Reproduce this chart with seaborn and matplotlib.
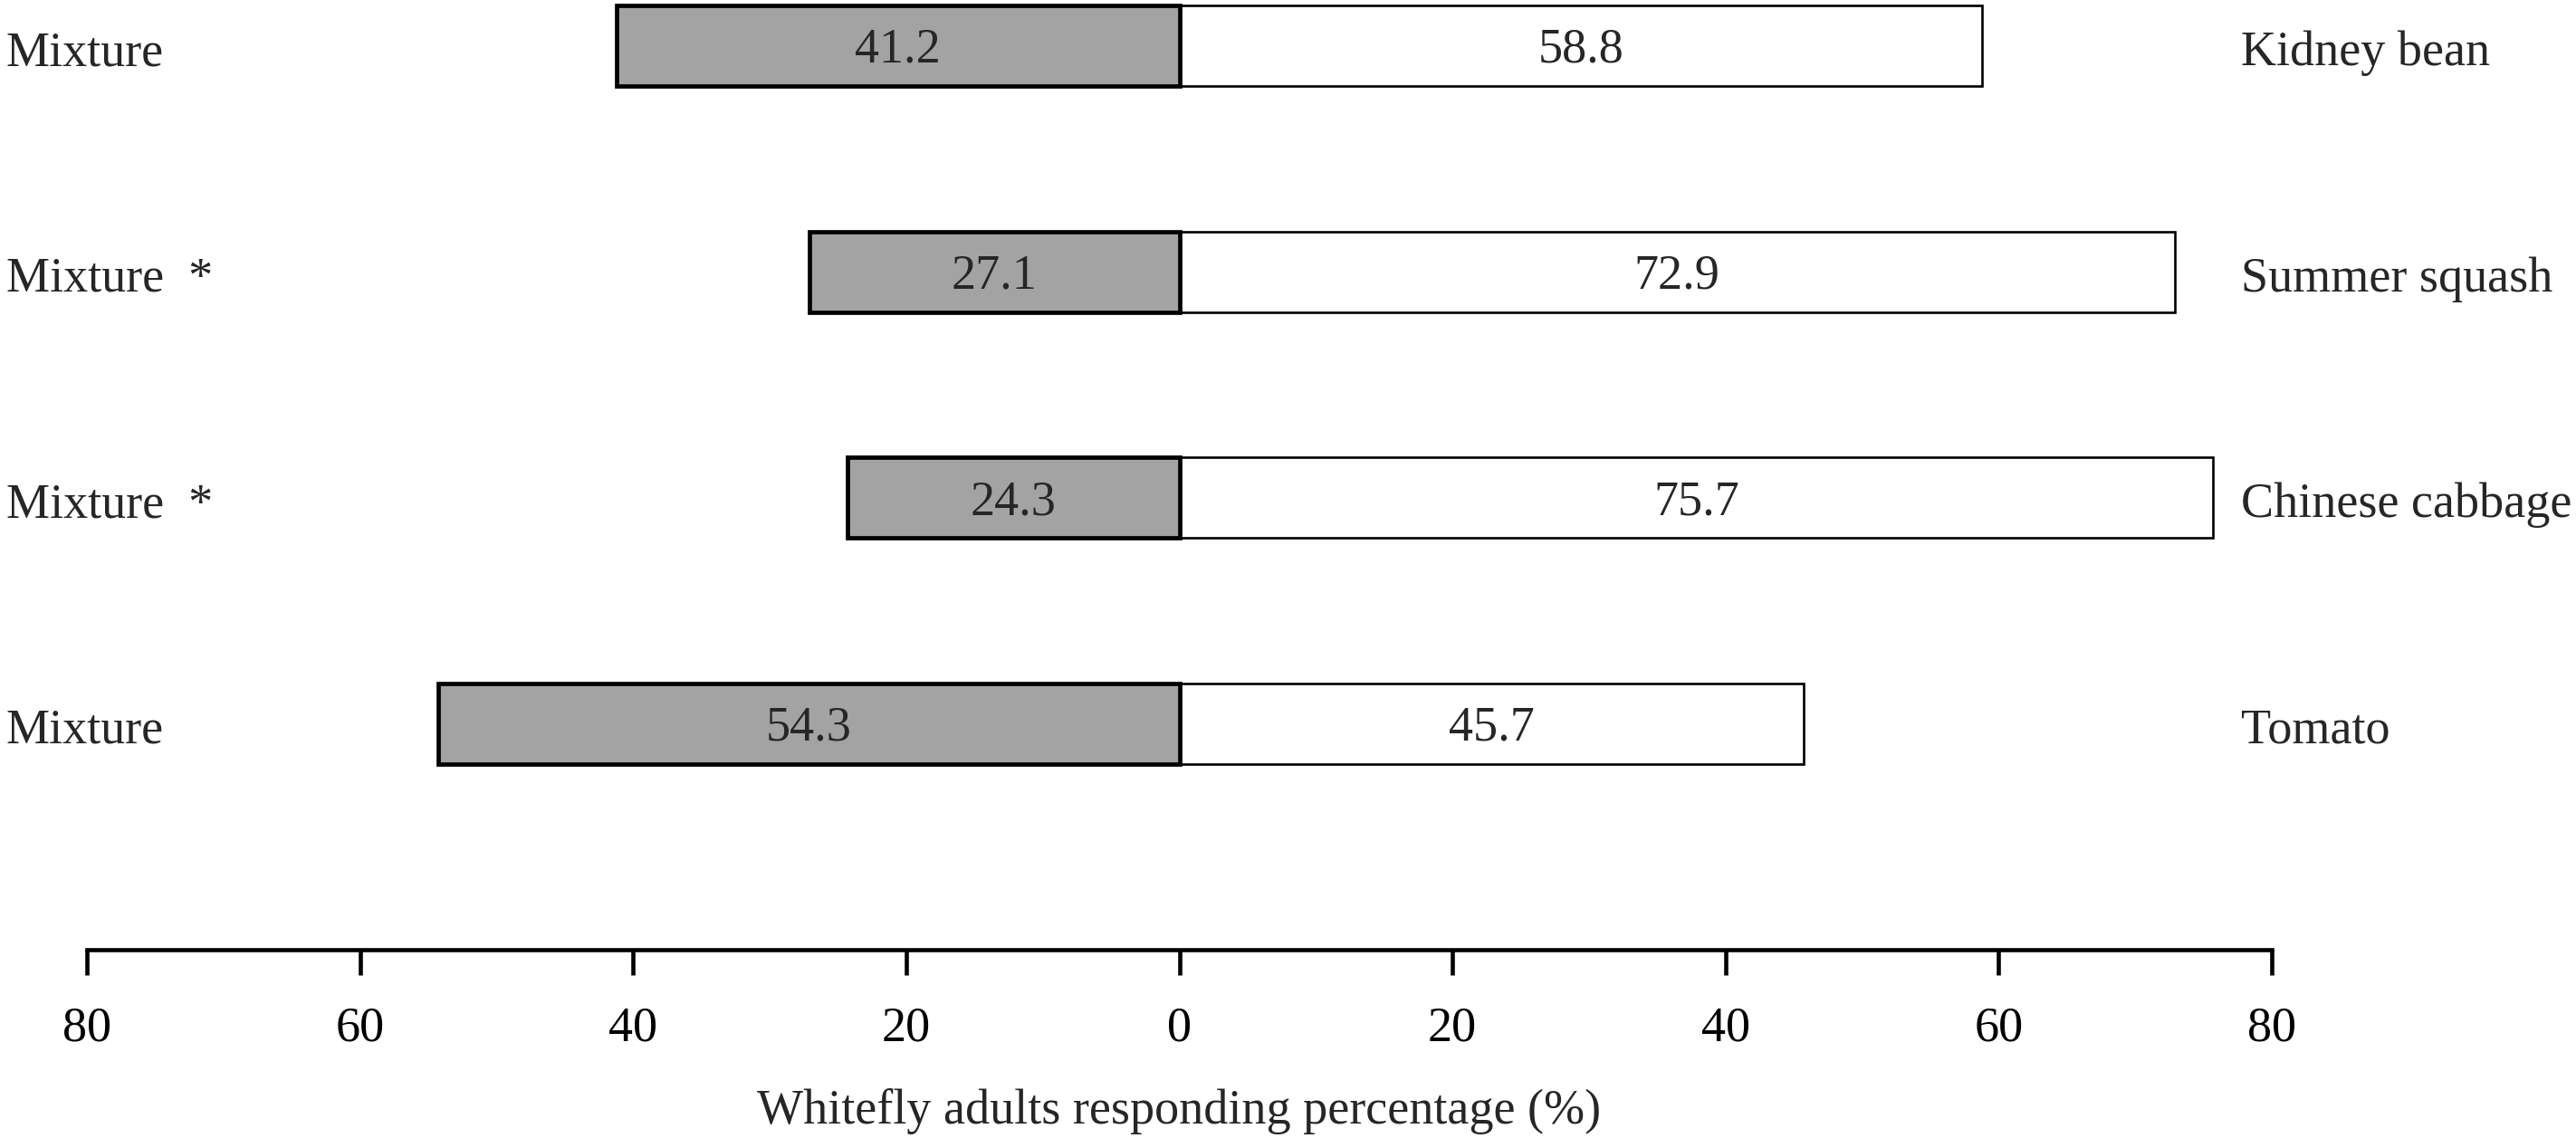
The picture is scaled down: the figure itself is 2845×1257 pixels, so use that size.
import matplotlib
matplotlib.use("Agg")
import matplotlib.pyplot as plt
import matplotlib.transforms as mtransforms
import numpy as np
import pandas as pd
import seaborn as sns

# ---- data ----
plants = ["Kidney bean", "Summer squash", "Chinese cabbage", "Tomato"]
mixture_pct = [41.2, 27.1, 24.3, 54.3]
plant_pct = [58.8, 72.9, 75.7, 45.7]
left_labels = ["Mixture", "Mixture  *", "Mixture  *", "Mixture"]
xtick_values = [-80, -60, -40, -20, 0, 20, 40, 60, 80]
xtick_labels = ["80", "60", "40", "20", "0", "20", "40", "60", "80"]
xlabel_text = "Whitefly adults responding percentage (%)"

df = pd.DataFrame({
    "plant": plants,
    "mixture": [-v for v in mixture_pct],
    "plant_side": plant_pct,
})

sns.set_style("white")
plt.rcParams["font.family"] = ["Liberation Serif", "DejaVu Serif"]

W, H = 2845, 1257
fig = plt.figure(figsize=(W / 100, H / 100), dpi=100)
ax = fig.add_axes([96 / W, 208 / H, 2413 / W, 1 - 208 / H])

FS = 39
gray = "#a3a3a3"

sns.barplot(data=df, x="plant_side", y="plant", order=plants, orient="h",
            color="white", saturation=1, edgecolor="black", linewidth=1.9,
            width=0.357, ax=ax)
sns.barplot(data=df, x="mixture", y="plant", order=plants, orient="h",
            color=gray, saturation=1, edgecolor="black", linewidth=3.4,
            width=0.357, ax=ax)

ax.set_xlim(-80, 80)
ax.set_ylim(4.0, -0.204)

# value labels centred in bars (baseline placed below bar centre)
val_trans = mtransforms.offset_copy(ax.transData, fig=fig, y=-13, units="points")
for i, (m, p) in enumerate(zip(mixture_pct, plant_pct)):
    ax.text(-m / 2, i, f"{m:.1f}", ha="center", va="baseline", fontsize=FS,
            transform=val_trans)
    ax.text(p / 2, i, f"{p:.1f}", ha="center", va="baseline", fontsize=FS,
            transform=val_trans)

# side labels
side_base = mtransforms.blended_transform_factory(fig.transFigure, ax.transData)
side_trans = mtransforms.offset_copy(side_base, fig=fig, y=-15.2, units="points")
for i, (ll, rl) in enumerate(zip(left_labels, plants)):
    ax.text(7 / W, i, ll, ha="left", va="baseline", fontsize=FS,
            transform=side_trans, clip_on=False)
    ax.text(2475 / W, i, rl, ha="left", va="baseline", fontsize=FS,
            transform=side_trans, clip_on=False)

ax.set_xticks(xtick_values)
ax.set_xticklabels(xtick_labels, fontsize=FS)
ax.set_yticks([])
ax.set_ylabel("")
ax.set_xlabel(xlabel_text, fontsize=FS, labelpad=29)

for s in ["left", "right", "top"]:
    ax.spines[s].set_visible(False)
ax.spines["bottom"].set_linewidth(3.3)
ax.spines["bottom"].set_color("black")
ax.tick_params(axis="x", direction="out", length=20, width=3.3,
               colors="black", pad=25, bottom=True)
ax.patch.set_alpha(0)

fig.savefig("out.png", dpi=100, facecolor="white")
